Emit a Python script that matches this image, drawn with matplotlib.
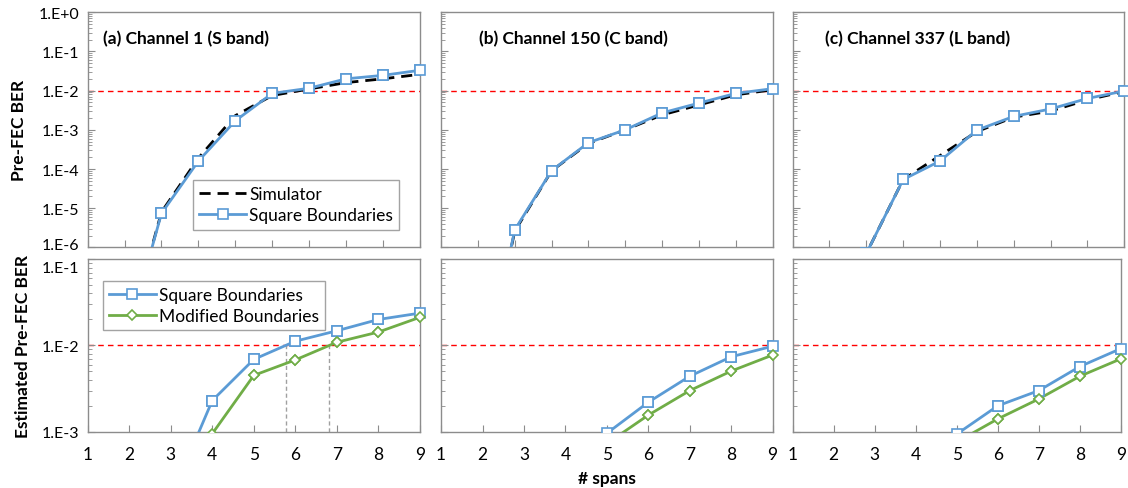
import numpy as np
import matplotlib
matplotlib.use('Agg')
import matplotlib.pyplot as plt
from matplotlib.ticker import FixedLocator, FuncFormatter, LogLocator, NullFormatter
from matplotlib.transforms import ScaledTranslation

plt.rcParams['font.family'] = ['Lato', 'DejaVu Sans']
plt.rcParams['font.size'] = 12

spans = np.arange(1, 10)

# top row: pre-FEC BER vs spans (simulator / square boundaries)
top_titles = ['(a) Channel 1 (S band)', '(b) Channel 150 (C band)', '(c) Channel 337 (L band)']
top_sim = [
    [3e-9, 8e-6, 1.9e-4, 2.3e-3, 7.5e-3, 1.1e-2, 1.6e-2, 2.0e-2, 2.6e-2],
    [1e-10, 2.6e-6, 9e-5, 4.5e-4, 1.0e-3, 2.4e-3, 4.3e-3, 7.8e-3, 1.05e-2],
    [1e-8, 7e-7, 5.4e-5, 2.2e-4, 9e-4, 2.1e-3, 3.0e-3, 5.8e-3, 9.5e-3],
]
top_sq = [
    [3e-9, 7.4e-6, 1.6e-4, 1.7e-3, 8.5e-3, 1.15e-2, 2.0e-2, 2.45e-2, 3.3e-2],
    [1e-10, 2.8e-6, 9.1e-5, 4.7e-4, 1.0e-3, 2.7e-3, 4.8e-3, 8.5e-3, 1.12e-2],
    [1e-8, 7e-7, 5.4e-5, 1.6e-4, 9.8e-4, 2.2e-3, 3.4e-3, 6.3e-3, 9.8e-3],
]

# bottom row: estimated pre-FEC BER (square / modified boundaries)
bot_sq = [
    [1e-5, 5e-5, 1.7e-4, 2.3e-3, 6.9e-3, 1.12e-2, 1.48e-2, 2.0e-2, 2.37e-2],
    [1e-7, 1e-6, 1e-5, 2e-4, 9.6e-4, 2.2e-3, 4.4e-3, 7.4e-3, 9.8e-3],
    [1e-7, 1e-6, 1e-5, 2e-4, 9.4e-4, 2.0e-3, 3.0e-3, 5.7e-3, 9.2e-3],
]
bot_mod = [
    [5e-6, 2e-5, 1e-4, 9.5e-4, 4.5e-3, 6.8e-3, 1.09e-2, 1.43e-2, 2.12e-2],
    [1e-7, 1e-6, 1e-5, 1.5e-4, 7.3e-4, 1.56e-3, 3.0e-3, 5.05e-3, 7.75e-3],
    [1e-7, 1e-6, 1e-5, 1.5e-4, 7.6e-4, 1.41e-3, 2.4e-3, 4.4e-3, 7.0e-3],
]

top_yticks = [1e-6, 1e-5, 1e-4, 1e-3, 1e-2, 1e-1, 1e0]
bot_yticks = [1e-3, 1e-2, 1e-1]
fec_limit = 1e-2

BLUE = '#5B9BD5'
GREEN = '#70AD47'
GRAY = '#8C8C8C'


def fmt_e(v, pos):
    return '1.E%+d' % int(round(np.log10(v)))


def crossing(x, y, level):
    ly = np.log10(y)
    i = np.argmax(ly >= np.log10(level))
    return x[i - 1] + (np.log10(level) - ly[i - 1]) / (ly[i] - ly[i - 1])


def style(ax, xlim, yticks, show_ylabels, show_xlabels):
    ax.set_yscale('log')
    ax.set_xlim(*xlim)
    ax.set_ylim(yticks[0], yticks[-1])
    for s in ax.spines.values():
        s.set_color(GRAY)
        s.set_linewidth(1.0)
    ax.xaxis.set_major_locator(FixedLocator(np.arange(xlim[0], xlim[1] + 1)))
    ax.yaxis.set_major_locator(FixedLocator(yticks))
    ax.yaxis.set_minor_locator(LogLocator(base=10, subs=np.arange(2, 10), numticks=20))
    ax.yaxis.set_minor_formatter(NullFormatter())
    ax.tick_params(axis='both', which='both', direction='in', color=GRAY)
    ax.tick_params(axis='y', which='major', length=5)
    ax.tick_params(axis='y', which='minor', length=3)
    ax.tick_params(axis='x', which='major', length=5, pad=10, labelsize=12.5)
    ax.tick_params(axis='y', labelsize=11.5, pad=6)
    if show_ylabels:
        ax.yaxis.set_major_formatter(FuncFormatter(fmt_e))
    else:
        ax.tick_params(axis='y', labelleft=False)
    if not show_xlabels:
        ax.tick_params(axis='x', labelbottom=False)


def plot_markers(ax, x, y, ylim, **kw):
    y = np.asarray(y)
    m = (y >= ylim[0]) & (y <= ylim[1])
    ax.plot(x[m], y[m], linestyle='none', clip_on=False, zorder=5, **kw)


def legend_box(ax, anchor):
    leg = ax.legend(loc='upper left', bbox_to_anchor=anchor,
                    borderaxespad=0, fancybox=False, handlelength=2.7,
                    handletextpad=0.2, borderpad=0.35, labelspacing=0.3,
                    fontsize=12.5)
    leg.get_frame().set_edgecolor(GRAY)
    leg.get_frame().set_linewidth(1.0)


fig = plt.figure(figsize=(11.28, 4.89), dpi=100)

lefts = [0.0777, 0.391, 0.7027]
top_w = [0.2946, 0.294, 0.294]
bot_w = [0.2946, 0.294, 0.291]

sq_kw = dict(marker='s', markersize=7, markerfacecolor='white',
             markeredgecolor=BLUE, markeredgewidth=1.2)
di_kw = dict(marker='D', markersize=5, markerfacecolor='white',
             markeredgecolor=GREEN, markeredgewidth=1.2)

top_axes = []
bot_axes = []
for i in range(3):
    ax = fig.add_axes([lefts[i], 0.492, top_w[i], 0.481])
    ax.axhline(fec_limit, color='#FF0000', linestyle=(0, (4, 3)), linewidth=1.0, zorder=1)
    ax.plot(spans, top_sim[i], color='black', linestyle=(0, (4, 2.5)),
            linewidth=2.0, label='Simulator', zorder=2)
    ax.plot(spans, top_sq[i], color=BLUE, linewidth=2.0,
            label='Square Boundaries', zorder=3, **sq_kw)
    plot_markers(ax, spans, top_sq[i], (top_yticks[0], top_yticks[-1]), **sq_kw)
    style(ax, (0, 9), top_yticks, i == 0, False)
    ax.text([0.045, 0.115, 0.098][i], 0.89, top_titles[i],
            transform=ax.transAxes, fontsize=12.5, fontweight='bold', va='center')
    if i == 0:
        legend_box(ax, (0.317, 0.286))
        ax.set_ylabel('Pre-FEC BER', fontweight='bold', fontsize=12.5, labelpad=8)
    top_axes.append(ax)

    axb = fig.add_axes([lefts[i], 0.115, bot_w[i], 0.353])
    axb.axhline(fec_limit, color='#FF0000', linestyle=(0, (4, 3)), linewidth=1.0, zorder=1)
    axb.plot(spans, bot_sq[i], color=BLUE, linewidth=2.0,
             label='Square Boundaries', zorder=3, **sq_kw)
    axb.plot(spans, bot_mod[i], color=GREEN, linewidth=2.0,
             label='Modified Boundaries', zorder=3, **di_kw)
    ylim_b = (bot_yticks[0], bot_yticks[-1])
    plot_markers(axb, spans, bot_sq[i], ylim_b, **sq_kw)
    plot_markers(axb, spans, bot_mod[i], ylim_b, **di_kw)
    style(axb, (1, 9), bot_yticks, i == 0, True)
    if i == 0:
        for series in (bot_sq[i], bot_mod[i]):
            xc = crossing(spans, np.asarray(series), fec_limit)
            axb.plot([xc, xc], [ylim_b[0], fec_limit], color='#A0A0A0',
                     linestyle=(0, (3, 2)), linewidth=1.0, zorder=1)
        legend_box(axb, (0.046, 0.874))
        axb.set_ylabel('Estimated Pre-FEC BER', fontweight='bold', fontsize=12.5, labelpad=8)
    if i == 1:
        axb.set_xlabel('# spans', fontweight='bold', fontsize=12.5, labelpad=6)
    bot_axes.append(axb)

# nudge the two tick labels that meet between the rows apart, as in the original
fig.canvas.draw()
lab = top_axes[0].yaxis.get_major_ticks()[0].label1
lab.set_transform(lab.get_transform() + ScaledTranslation(0, 3 / 72, fig.dpi_scale_trans))
lab = bot_axes[0].yaxis.get_major_ticks()[-1].label1
lab.set_transform(lab.get_transform() + ScaledTranslation(0, -5 / 72, fig.dpi_scale_trans))

fig.savefig('out.png', dpi=100)
